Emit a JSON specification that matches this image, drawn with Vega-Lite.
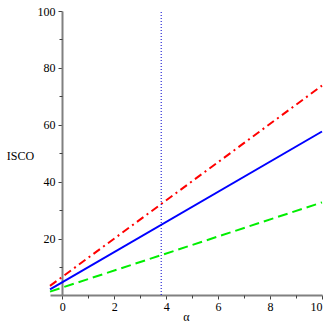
{
  "$schema": "https://vega.github.io/schema/vega-lite/v6.json",
  "autosize": "none",
  "width": 272,
  "height": 284,
  "padding": {"left": 50, "top": 11, "right": 10, "bottom": 37},
  "background": "white",
  "config": {
    "view": {"stroke": null},
    "axis": {"labelFont": "Liberation Serif", "titleFont": "Liberation Serif", "labelFontSize": 12, "titleFontSize": 12, "labelColor": "black", "titleColor": "black", "titleFontWeight": "normal", "grid": false, "domainColor": "#808080", "domainWidth": 2, "tickColor": "#404040"}
  },
  "datasets": {
    "lines": [
      {"series": "red", "x": -0.47, "y": 3.5},
      {"series": "red", "x": 10, "y": 73.8},
      {"series": "blue", "x": -0.47, "y": 2.3},
      {"series": "blue", "x": 10, "y": 57.7},
      {"series": "green", "x": -0.47, "y": 1.5},
      {"series": "green", "x": 10, "y": 32.8}
    ],
    "vline": [{"x": 3.81, "y": 0.3, "y2": 100}]
  },
  "resolve": {"axis": {"x": "independent", "y": "independent"}},
  "layer": [
    {
      "data": {"name": "lines"},
      "transform": [{"filter": "datum.series === 'green'"}],
      "mark": {"type": "line", "color": "#00ee00", "strokeWidth": 2, "strokeDash": [10, 5]},
      "encoding": {
        "x": {"field": "x", "type": "quantitative", "scale": {"domain": [-0.47, 10], "nice": false, "zero": false},
          "axis": {"orient": "bottom", "values": [0, 2, 4, 6, 8, 10], "title": "α", "titlePadding": -1, "tickSize": 4, "labelPadding": 2, "format": "d"}},
        "y": {"field": "y", "type": "quantitative", "scale": {"domain": [0.3, 100], "nice": false, "zero": false},
          "axis": {"orient": "left", "offset": -12, "values": [20, 40, 60, 80, 100], "title": "ISCO", "titleAngle": 0, "titleX": -42, "titleY": 144, "titleAlign": "center", "titleBaseline": "middle", "tickSize": 4, "labelPadding": 3}}
      }
    },
    {
      "data": {"name": "lines"},
      "transform": [{"filter": "datum.series === 'blue'"}],
      "mark": {"type": "line", "color": "#0000ff", "strokeWidth": 2},
      "encoding": {
        "x": {"field": "x", "type": "quantitative",
          "axis": {"orient": "bottom", "values": [1, 3, 5, 7, 9], "labels": false, "domain": false, "title": null, "tickSize": 3}},
        "y": {"field": "y", "type": "quantitative",
          "axis": {"orient": "left", "offset": -12, "values": [10, 30, 50, 70, 90], "labels": false, "domain": false, "title": null, "tickSize": 3}}
      }
    },
    {
      "data": {"name": "lines"},
      "transform": [{"filter": "datum.series === 'red'"}],
      "mark": {"type": "line", "color": "#ff0000", "strokeWidth": 2, "strokeDash": [8, 4, 2, 4]},
      "encoding": {
        "x": {"field": "x", "type": "quantitative", "axis": null},
        "y": {"field": "y", "type": "quantitative", "axis": null}
      }
    },
    {
      "data": {"name": "vline"},
      "mark": {"type": "rule", "color": "#0000cc", "strokeWidth": 1, "strokeDash": [1, 2]},
      "encoding": {
        "x": {"field": "x", "type": "quantitative", "axis": null},
        "y": {"field": "y", "type": "quantitative", "axis": null},
        "y2": {"field": "y2"}
      }
    }
  ]
}
